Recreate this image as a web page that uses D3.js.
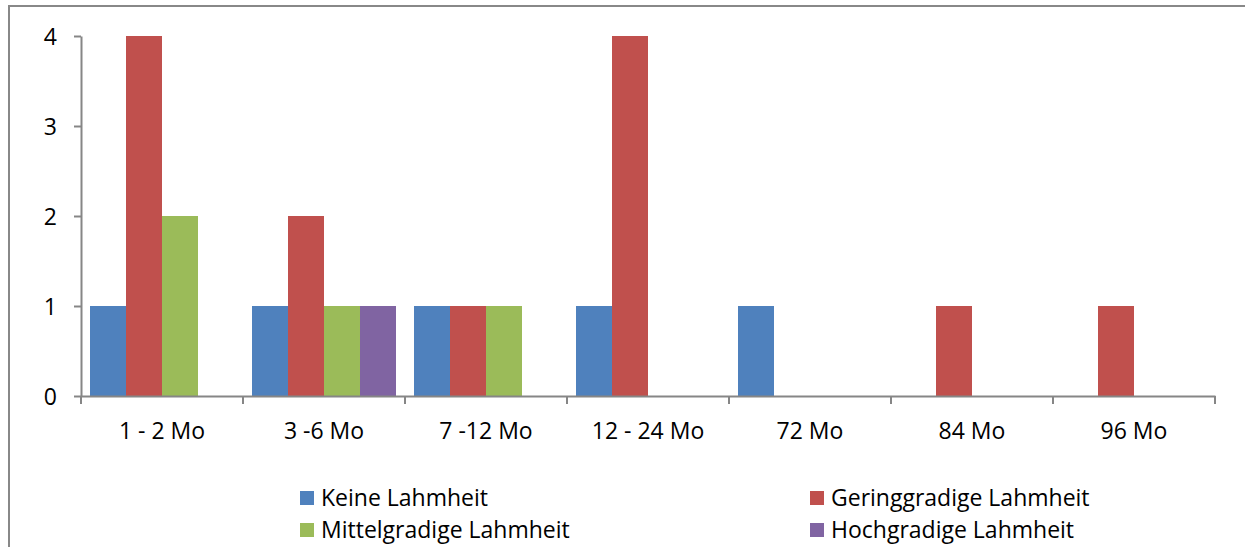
<!DOCTYPE html>
<html>
<head>
<meta charset="utf-8">
<script src="https://cdn.jsdelivr.net/npm/d3@7"></script>
<style>
  html, body { margin: 0; padding: 0; background: #fff; }
  svg { display: block; }
  svg text { font-family: "Open Sans", "Noto Sans", sans-serif; }
</style>
</head>
<body>
<svg id="chart" width="1245" height="547"></svg>
<script>
// categories and series values
var categories = ['1 - 2 Mo', '3 -6 Mo', '7 -12 Mo', '12 - 24 Mo', '72 Mo', '84 Mo', '96 Mo'];
var seriesNames = ['Keine Lahmheit', 'Geringgradige Lahmheit', 'Mittelgradige Lahmheit', 'Hochgradige Lahmheit'];
var keine = [1, 1, 1, 1, 1, 0, 0];
var gering = [4, 2, 1, 4, 0, 1, 1];
var mittel = [2, 1, 1, 0, 0, 0, 0];
var hoch = [0, 1, 0, 0, 0, 0, 0];
var yTicks = [0, 1, 2, 3, 4];
var colors = ['#4F81BD', '#C0504D', '#9BBB59', '#8064A2'];

var series = [keine, gering, mittel, hoch];

var svg = d3.select('#chart');
var axisColor = '#868686';
var fontSize = '23px';

// outer chart border
svg.append('rect')
    .attr('x', 9).attr('y', 6)
    .attr('width', 1245).attr('height', 600)
    .attr('fill', 'none')
    .attr('stroke', '#888').attr('stroke-width', 2);

var plotLeft = 81, plotRight = 1215, plotTop = 36, plotBottom = 396;

var x = d3.scaleBand().domain(categories).range([plotLeft, plotRight]).paddingInner(0).paddingOuter(0);
// gap width 50% -> padding at both sides of each group
var x1 = d3.scaleBand().domain(d3.range(series.length))
    .range([0, x.bandwidth()]).paddingOuter(0.25).paddingInner(0);
var y = d3.scaleLinear().domain([0, 4]).range([plotBottom, plotTop]);

// bars
series.forEach(function (vals, s) {
    svg.append('g').selectAll('rect')
        .data(vals.map(function (v, i) { return { cat: categories[i], v: v }; }).filter(function (d) { return d.v > 0; }))
        .enter().append('rect')
        .attr('x', function (d) { return x(d.cat) + x1(s); })
        .attr('width', x1.bandwidth())
        .attr('y', function (d) { return y(d.v); })
        .attr('height', function (d) { return y(0) - y(d.v); })
        .attr('fill', colors[s]);
});

// y axis
var yAxis = svg.append('g').attr('transform', 'translate(' + plotLeft + ',0)')
    .call(d3.axisLeft(y).tickValues(yTicks).tickSize(7).tickSizeOuter(0).tickPadding(17).tickFormat(d3.format('d')));
yAxis.attr('font-family', null).attr('font-size', null);
yAxis.select('.domain').attr('stroke', axisColor).attr('stroke-width', 2);
yAxis.selectAll('.tick line').attr('stroke', axisColor).attr('stroke-width', 2);
yAxis.selectAll('.tick text').attr('fill', '#000').style('font-size', fontSize).attr('dy', '0.35em');

// x axis
var xAxis = svg.append('g').attr('transform', 'translate(0,' + plotBottom + ')')
    .call(d3.axisBottom(x).tickSize(0).tickPadding(27));
xAxis.attr('font-family', null).attr('font-size', null);
xAxis.select('.domain').attr('stroke', axisColor).attr('stroke-width', 2);
xAxis.selectAll('.tick text').attr('fill', '#000').style('font-size', fontSize);
// category boundary ticks
var bounds = categories.map(function (c) { return x(c); }).concat([plotRight]);
xAxis.selectAll('.bound').data(bounds).enter().append('line')
    .attr('x1', function (d) { return d; }).attr('x2', function (d) { return d; })
    .attr('y1', 0).attr('y2', 8)
    .attr('stroke', axisColor).attr('stroke-width', 2);

// legend
var legendPos = [[300, 498], [810, 498], [300, 530], [810, 530]];
var legend = svg.append('g');
seriesNames.forEach(function (name, i) {
    var g = legend.append('g').attr('transform', 'translate(' + legendPos[i][0] + ',' + legendPos[i][1] + ')');
    g.append('rect').attr('x', 0).attr('y', -7).attr('width', 14).attr('height', 14).attr('fill', colors[i]);
    g.append('text').attr('x', 21).attr('y', 0).attr('dy', '0.35em')
        .style('font-size', fontSize).attr('fill', '#000').text(name);
});
</script>
</body>
</html>
